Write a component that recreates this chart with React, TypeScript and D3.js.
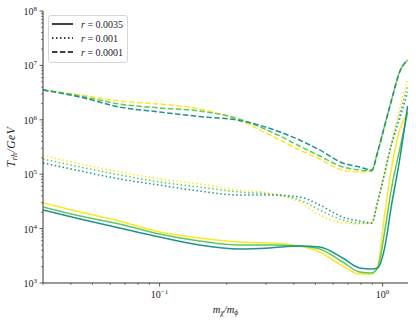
import React from "react";
import * as d3 from "d3";

// shared x grid (m_chi / m_phi)
const massRatio = [0.03, 0.044, 0.066, 0.1, 0.151, 0.228, 0.311, 0.424, 0.522, 0.662, 0.789, 0.893, 0.95, 1.021, 1.097, 1.192, 1.295];

// r = 0.0035 (solid)
const solidYellow = [2.95e4, 2.02e4, 1.38e4, 8.66e3, 6.72e3, 5.67e3, 5.44e3, 4.79e3, 3.71e3, 2.05e3, 1.46e3, 1.46e3, 2.05e3, 1.78e4, 1.3e5, 6.5e5, 1.33e6];
const solidGreen = [2.5e4, 1.7e4, 1.22e4, 7.96e3, 5.92e3, 4.99e3, 4.99e3, 4.79e3, 4.22e3, 2.43e3, 1.59e3, 1.53e3, 1.89e3, 8.66e3, 5.6e4, 2.79e5, 1.39e6];
const solidTeal = [2.2e4, 1.5e4, 1.03e4, 7.01e3, 4.99e3, 4.22e3, 4.4e3, 4.79e3, 4.59e3, 2.88e3, 1.89e3, 1.81e3, 1.89e3, 4.4e3, 2.72e4, 1.82e5, 1.79e6];

// r = 0.001 (dotted)
const dottedYellow = [2.25e5, 1.54e5, 1.1e5, 8.2e4, 6.6e4, 5.1e4, 4.5e4, 3.08e4, 1.78e4, 1.27e4, 1.22e4, 1.27e4, 3.08e4, 1.05e5, 3.59e5, 1.65e6, 5.39e6];
const dottedGreen = [1.9e5, 1.36e5, 9.7e4, 7.2e4, 5.8e4, 4.7e4, 4.3e4, 3.36e4, 2.2e4, 1.44e4, 1.27e4, 1.27e4, 3.08e4, 1.05e5, 3.59e5, 1.28e6, 4.18e6];
const dottedTeal = [1.61e5, 1.15e5, 8.2e4, 6.3e4, 4.9e4, 4.15e4, 4.15e4, 3.81e4, 2.72e4, 1.63e4, 1.38e4, 1.27e4, 3.08e4, 1.05e5, 3.59e5, 1.03e6, 3.24e6];

// r = 0.0001 (dashed)
const dashedYellow = [3.53e6, 2.86e6, 2.22e6, 1.95e6, 1.58e6, 9.7e5, 5.3e5, 2.79e5, 1.9e5, 1.19e5, 1.1e5, 1.15e5, 2.56e5, 7.7e5, 2.31e6, 7.56e6, 1.26e7];
const dashedGreen = [3.53e6, 2.74e6, 1.95e6, 1.65e6, 1.45e6, 1.03e6, 6.2e5, 3.3e5, 2.16e5, 1.36e5, 1.19e5, 1.15e5, 2.56e5, 7.7e5, 2.31e6, 7.56e6, 1.26e7];
const dashedTeal = [3.53e6, 2.62e6, 1.72e6, 1.39e6, 1.15e6, 9.7e5, 7.0e5, 4.25e5, 2.79e5, 1.61e5, 1.36e5, 1.19e5, 2.56e5, 7.7e5, 2.31e6, 7.56e6, 1.26e7];

const legendLabels = ["0.0035", "0.001", "0.0001"];
const yMajor = [3, 4, 5, 6, 7, 8];
const xMajor = [-1, 0];

const YELLOW = "#fde725";
const GREEN = "#5ec962";
const TEAL = "#21918c";
const DASH_SOLID = "none";
const DASH_DOT = "1.5,2.5";
const DASH_DASH = "5.5,2.4";

const W = 416, H = 322;
const L = 43, R = 408, T = 11, B = 283;

export default function App() {
  const x = d3.scaleLog().domain([0.03, 1.3]).range([L, R]);
  const y = d3.scaleLog().domain([1e3, 1e8]).range([B, T]);
  const line = d3
    .line<[number, number]>()
    .x((d) => x(d[0]))
    .y((d) => y(d[1]))
    .curve(d3.curveMonotoneX);

  const series = [
    { v: solidYellow, c: YELLOW, d: DASH_SOLID },
    { v: dottedYellow, c: YELLOW, d: DASH_DOT },
    { v: dashedYellow, c: YELLOW, d: DASH_DASH },
    { v: solidGreen, c: GREEN, d: DASH_SOLID },
    { v: dottedGreen, c: GREEN, d: DASH_DOT },
    { v: dashedGreen, c: GREEN, d: DASH_DASH },
    { v: solidTeal, c: TEAL, d: DASH_SOLID },
    { v: dottedTeal, c: TEAL, d: DASH_DOT },
    { v: dashedTeal, c: TEAL, d: DASH_DASH },
  ];

  const yMinor: number[] = [];
  for (let e = 3; e < 8; e++) for (let m = 2; m <= 9; m++) yMinor.push(m * Math.pow(10, e));
  const xMinor: number[] = [];
  for (let e = -2; e <= 0; e++)
    for (let m = 2; m <= 9; m++) {
      const v = m * Math.pow(10, e);
      if (v >= 0.03 && v <= 1.3) xMinor.push(v);
    }

  const font = "'Liberation Serif', 'DejaVu Serif', serif";
  const axisColor = "#333";
  const legendDash = [DASH_SOLID, DASH_DOT, DASH_DASH];

  return (
    <svg width={W} height={H} style={{ position: "absolute", left: 0, top: 0, background: "#fff" }} fontFamily={font}>
      <defs>
        <clipPath id="plot">
          <rect x={L} y={T - 2} width={R - L} height={B - T + 2} />
        </clipPath>
      </defs>
      <g clipPath="url(#plot)">
        {series.map((s, i) => (
          <path
            key={i}
            d={line(massRatio.map((m, j) => [m, s.v[j]] as [number, number])) || ""}
            fill="none"
            stroke={s.c}
            strokeWidth={1.5}
            strokeDasharray={s.d}
          />
        ))}
      </g>
      {/* axes */}
      <line x1={L} x2={L} y1={T} y2={B} stroke={axisColor} strokeWidth={1} />
      <line x1={L} x2={R} y1={B} y2={B} stroke={axisColor} strokeWidth={1} />
      {yMinor.map((v, i) => (
        <line key={"ym" + i} x1={L} x2={L - 2} y1={y(v)} y2={y(v)} stroke={axisColor} strokeWidth={0.6} />
      ))}
      {yMajor.map((e) => (
        <g key={"yM" + e}>
          <line x1={L} x2={L - 3.5} y1={y(Math.pow(10, e))} y2={y(Math.pow(10, e))} stroke={axisColor} strokeWidth={0.8} />
          <text x={L - 6} y={y(Math.pow(10, e)) + 4} textAnchor="end" fontSize={10} fill="#222">
            10<tspan dy={-4} fontSize={7}>{e}</tspan>
          </text>
        </g>
      ))}
      {xMinor.map((v, i) => (
        <line key={"xm" + i} x1={x(v)} x2={x(v)} y1={B} y2={B + 2} stroke={axisColor} strokeWidth={0.6} />
      ))}
      {xMajor.map((e) => (
        <g key={"xM" + e}>
          <line x1={x(Math.pow(10, e))} x2={x(Math.pow(10, e))} y1={B} y2={B + 3.5} stroke={axisColor} strokeWidth={0.8} />
          <text x={x(Math.pow(10, e))} y={B + 15} textAnchor="middle" fontSize={10} fill="#222">
            10<tspan dy={-4} fontSize={7}>{e === -1 ? "−1" : String(e)}</tspan>
          </text>
        </g>
      ))}
      {/* axis labels */}
      <text x={(L + R) / 2} y={313} textAnchor="middle" fontSize={10.5} fill="#222" fontStyle="italic">
        m<tspan dy={2} fontSize={7.5}>χ</tspan>
        <tspan dy={-2}>/m</tspan>
        <tspan dy={2} fontSize={7.5}>ϕ</tspan>
      </text>
      <text transform={`translate(15,${(T + B) / 2}) rotate(-90)`} textAnchor="middle" fontSize={11.5} fill="#222" fontStyle="italic" letterSpacing={0.5}>
        T<tspan dy={2} fontSize={8}>rh</tspan>
        <tspan dy={-2}>/GeV</tspan>
      </text>
      {/* legend */}
      <rect x={48.5} y={15.5} width={79} height={47} rx={2.5} fill="#fff" fillOpacity={0.8} stroke="#ccc" strokeWidth={0.8} />
      {legendLabels.map((lab, i) => (
        <g key={"lg" + i}>
          <line x1={52} x2={73} y1={24 + i * 14} y2={24 + i * 14} stroke="#000" strokeWidth={1.5} strokeDasharray={legendDash[i]} />
          <text x={81} y={27.5 + i * 14} fontSize={10} fill="#222">
            <tspan fontStyle="italic">r</tspan> = {lab}
          </text>
        </g>
      ))}
    </svg>
  );
}
